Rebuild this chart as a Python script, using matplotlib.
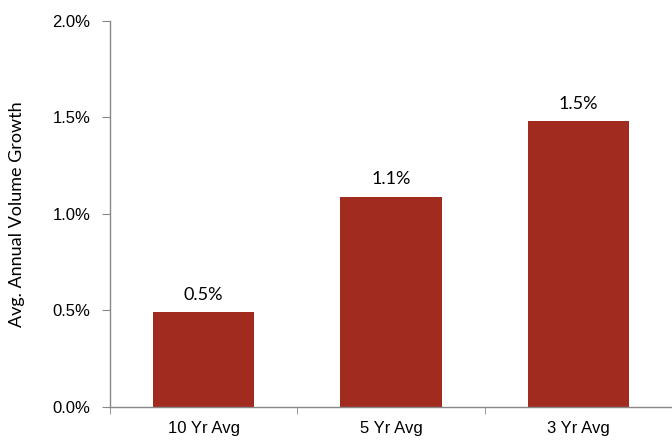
import numpy as np
import matplotlib.pyplot as plt
from matplotlib.ticker import FuncFormatter, FixedLocator

categories = ['10 Yr Avg', '5 Yr Avg', '3 Yr Avg']
growth = [0.49, 1.09, 1.48]  # percent
yticks = [0.0, 0.5, 1.0, 1.5, 2.0]

plt.rcParams['font.family'] = ['Liberation Sans', 'DejaVu Sans']

fig = plt.figure(figsize=(6.72, 4.43), dpi=100)
ax = fig.add_axes([0.1637, 0.0813, 0.8363, 0.8713])

x = np.arange(len(categories))
bars = ax.bar(x, growth, width=0.54, color='#A22B1F', zorder=2)

for xi, v in zip(x, growth):
    ax.annotate('%.1f%%' % v, (xi, v), xytext=(0, 7), textcoords='offset points',
                ha='center', va='bottom', fontsize=13, family=['Lato', 'DejaVu Sans'])

ax.set_xlim(-0.5, 2.5)
ax.set_ylim(0, 2.0)
ax.set_yticks(yticks)
ax.yaxis.set_major_formatter(FuncFormatter(lambda v, p: '%.1f%%' % v))
ax.set_xticks(x)
ax.set_xticklabels(categories)
ax.xaxis.set_minor_locator(FixedLocator([-0.5, 0.5, 1.5, 2.5]))

ax.tick_params(axis='x', which='major', length=0, pad=10, labelsize=12)
ax.tick_params(axis='x', which='minor', length=5, color='#888888', direction='out')
ax.tick_params(axis='y', length=6, color='#888888', labelsize=12, pad=8)

for s in ['top', 'right']:
    ax.spines[s].set_visible(False)
for s in ['left', 'bottom']:
    ax.spines[s].set_color('#888888')
    ax.spines[s].set_linewidth(1.0)

ax.set_ylabel('Avg. Annual Volume Growth', fontsize=13, family=['Lato', 'DejaVu Sans'])
ax.yaxis.set_label_coords(-0.151, 0.5)

fig.savefig('out.png', dpi=100)
